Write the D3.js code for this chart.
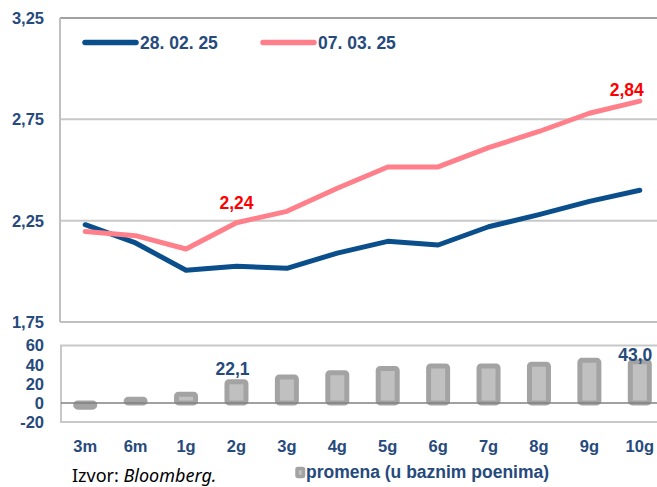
<!DOCTYPE html>
<html><head><meta charset="utf-8">
<script src="https://cdn.jsdelivr.net/npm/d3@7"></script>
<style>html,body{margin:0;padding:0;background:#fff;overflow:hidden}</style>
</head><body>
<svg id="c" width="657" height="487"></svg>
<script>
const categories = ["3m","6m","1g","2g","3g","4g","5g","6g","7g","8g","9g","10g"];
const series1 = [2.23,2.14,2.005,2.025,2.015,2.09,2.148,2.13,2.22,2.28,2.345,2.40];
const series2 = [2.197,2.176,2.11,2.24,2.296,2.41,2.515,2.515,2.61,2.69,2.78,2.84];
const change = [-4.5,3.8,9.0,22.1,27.0,31.5,36.0,38.6,38.6,40.5,44.5,43.0];
const seriesNames = ["28. 02. 25","07. 03. 25"];
const topTicks = [1.75,2.25,2.75,3.25];
const bottomTicks = [-20,0,20,40,60];
const barLegend = "promena (u baznim poenima)";
const source = "Izvor: ";
const sourceItalic = "Bloomberg.";

const BLUE = "#0a4f8c", PINK = "#ff808a", TXT = "#264a7c";
const FONT = "'Liberation Sans', Arial, sans-serif";
const svg = d3.select("#c");

const x = d3.scaleBand().domain(categories).range([60, 665]).padding(0);
const cx = d => x(d) + x.bandwidth()/2;
const y = d3.scaleLinear().domain([1.75, 3.25]).range([322, 18]);
const yb = d3.scaleLinear().domain([-20, 60]).range([422, 345.5]);
const fmt = v => d3.format(".2f")(v).replace(".", ",");
const fmt1 = v => d3.format(".1f")(v).replace(".", ",");

// top panel grid
svg.append("g").selectAll("line").data(topTicks.filter(t => t > 1.75 && t < 3.25)).join("line")
  .attr("x1", 60).attr("x2", 665).attr("y1", d => y(d)).attr("y2", d => y(d))
  .attr("stroke", "#c8c8c8").attr("stroke-width", 2);
svg.append("line").attr("x1", 60).attr("x2", 665).attr("y1", y(3.25)).attr("y2", y(3.25))
  .attr("stroke", "#a0a0a0").attr("stroke-width", 2);
svg.append("line").attr("x1", 60).attr("x2", 665).attr("y1", y(1.75)).attr("y2", y(1.75))
  .attr("stroke", "#c0c0c0").attr("stroke-width", 2);
svg.append("line").attr("x1", 60).attr("x2", 60).attr("y1", y(3.25)).attr("y2", y(1.75))
  .attr("stroke", "#c0c0c0").attr("stroke-width", 2);

// top ticks
svg.append("g").selectAll("text").data(topTicks).join("text")
  .attr("x", 44).attr("y", d => y(d)).attr("dy", "0.36em").attr("text-anchor", "end")
  .attr("font-family", FONT).attr("font-weight", "bold").attr("font-size", 16.5).attr("fill", TXT)
  .text(fmt);

// lines
const line = d3.line().x((d, i) => cx(categories[i])).y(d => y(d));
[[series1, BLUE], [series2, PINK]].forEach(([s, c]) => {
  svg.append("path").datum(s).attr("d", line).attr("fill", "none").attr("stroke", c)
    .attr("stroke-width", 5).attr("stroke-linejoin", "round").attr("stroke-linecap", "round");
});

// value labels on pink line
svg.append("text").attr("x", cx("2g")).attr("y", y(series2[3]) - 14).attr("text-anchor", "middle")
  .attr("font-family", FONT).attr("font-weight", "bold").attr("font-size", 17.5).attr("fill", "#ff0000")
  .text(fmt(series2[3]));
svg.append("text").attr("x", cx("10g") + 4).attr("y", y(series2[11]) - 5).attr("text-anchor", "end")
  .attr("font-family", FONT).attr("font-weight", "bold").attr("font-size", 17.5).attr("fill", "#ff0000")
  .text(fmt(series2[11]));

// legend
const leg = [[85, BLUE, seriesNames[0]], [263, PINK, seriesNames[1]]];
leg.forEach(([lx, c, t]) => {
  svg.append("line").attr("x1", lx).attr("x2", lx + 51).attr("y1", 42.5).attr("y2", 42.5)
    .attr("stroke", c).attr("stroke-width", 5.5).attr("stroke-linecap", "round");
  svg.append("text").attr("x", lx + 55).attr("y", 48.5)
    .attr("font-family", FONT).attr("font-weight", "bold").attr("font-size", 17.5).attr("fill", TXT)
    .text(t);
});

// bottom panel
svg.append("rect").attr("x", 61).attr("y", yb(60)).attr("width", 620).attr("height", yb(-20) - yb(60))
  .attr("fill", "none").attr("stroke", "#c8c8c8").attr("stroke-width", 2);
svg.append("g").selectAll("text").data(bottomTicks).join("text")
  .attr("x", 44).attr("y", d => yb(d)).attr("dy", "0.36em").attr("text-anchor", "end")
  .attr("font-family", FONT).attr("font-weight", "bold").attr("font-size", 16.5).attr("fill", TXT)
  .text(d => d);

const bw = 19;
svg.append("g").selectAll("rect").data(change).join("rect")
  .attr("x", (d, i) => cx(categories[i]) - bw/2).attr("width", bw)
  .attr("y", d => yb(Math.max(d, 0))).attr("height", d => Math.abs(yb(d) - yb(0)))
  .attr("rx", 2).attr("fill", "#c0c0c0").attr("stroke", "#a3a3a3").attr("stroke-width", 5)
  .attr("stroke-linejoin", "round");
svg.append("line").attr("x1", 61).attr("x2", 665).attr("y1", yb(0)).attr("y2", yb(0))
  .attr("stroke", "#808080").attr("stroke-width", 1.5);

svg.append("text").attr("x", cx("2g") - 4).attr("y", yb(change[3]) - 7).attr("text-anchor", "middle")
  .attr("font-family", FONT).attr("font-weight", "bold").attr("font-size", 17.5).attr("fill", TXT)
  .text(fmt1(change[3]));
svg.append("text").attr("x", cx("10g") - 4.5).attr("y", yb(change[11]) - 1).attr("text-anchor", "middle")
  .attr("font-family", FONT).attr("font-weight", "bold").attr("font-size", 17.5).attr("fill", TXT)
  .text(fmt1(change[11]));

// category labels
svg.append("g").selectAll("text").data(categories).join("text")
  .attr("x", d => cx(d)).attr("y", 452).attr("text-anchor", "middle")
  .attr("font-family", FONT).attr("font-weight", "bold").attr("font-size", 16.5).attr("fill", TXT)
  .text(d => d);

// bar legend
svg.append("rect").attr("x", 297).attr("y", 468.5).attr("width", 6.5).attr("height", 8)
  .attr("fill", "#c0c0c0").attr("stroke", "#a3a3a3").attr("stroke-width", 3.5).attr("rx", 1);
svg.append("text").attr("x", 306).attr("y", 477.5)
  .attr("font-family", FONT).attr("font-weight", "bold").attr("font-size", 17.5).attr("fill", TXT)
  .text(barLegend);

// source
const src = svg.append("text").attr("x", 72).attr("y", 481.5)
  .attr("font-family", "'Noto Sans', sans-serif").attr("font-size", 18).attr("fill", "#000");
src.append("tspan").text(source);
src.append("tspan").attr("font-style", "italic").text(sourceItalic);
</script>
</body></html>
